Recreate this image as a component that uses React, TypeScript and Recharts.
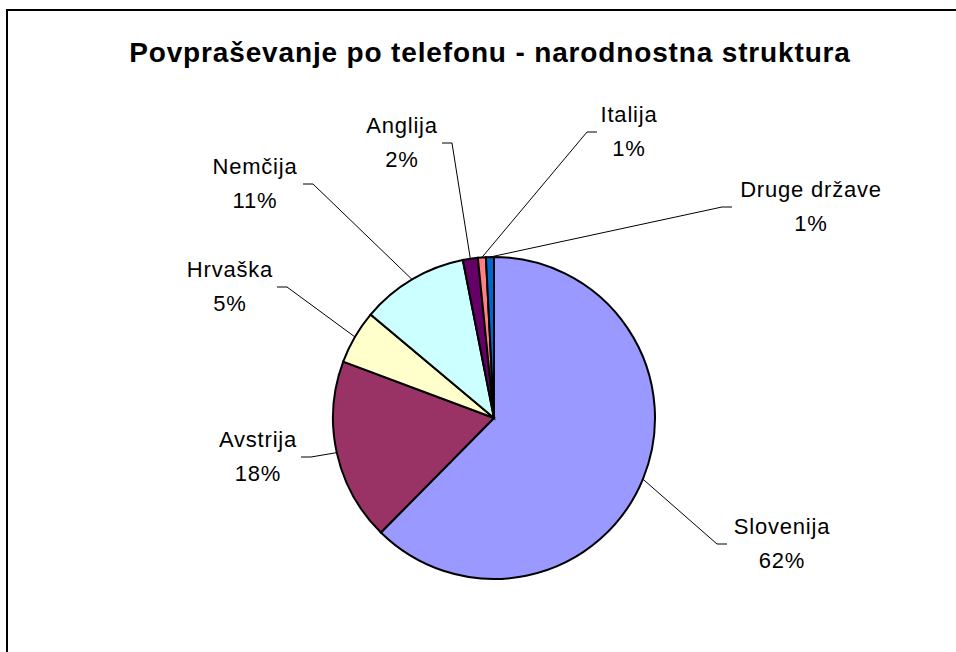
import React from 'react';
import { PieChart, Pie, Cell } from 'recharts';

const countries = ['Slovenija', 'Avstrija', 'Hrvaška', 'Nemčija', 'Anglija', 'Italija', 'Druge države'];
const shares = [62.4, 18.3, 5.4, 10.8, 1.5, 0.8, 0.8];
const colors = ['#9999FF', '#993366', '#FFFFCC', '#CCFFFF', '#660066', '#FF8080', '#0066CC'];

// where each label sits: text centre x, and the end of the leader line tail
const labelLayout = [
  { textX: 782, tailX: 727, tailY: 544 },
  { textX: 258, tailX: 301, tailY: 457 },
  { textX: 230, tailX: 277, tailY: 287 },
  { textX: 255, tailX: 303, tailY: 184 },
  { textX: 402, tailX: 442, tailY: 143 },
  { textX: 629, tailX: 597, tailY: 132 },
  { textX: 811, tailX: 732, tailY: 207 },
];

const chartData = countries.map((name, i) => ({ name, value: shares[i] }));

const RADIAN = Math.PI / 180;
const PIE_CX = 494;
const PIE_CY = 418;

const renderLabel = (props: any) => {
  const { cx, cy, midAngle, outerRadius, percent, index, name } = props;
  const layout = labelLayout[index];
  const ex = cx + outerRadius * Math.cos(-midAngle * RADIAN);
  const ey = cy + outerRadius * Math.sin(-midAngle * RADIAN);
  const elbowX = layout.tailX + (layout.tailX < PIE_CX ? 10 : -10);
  return (
    <g key={`label-${index}`}>
      <polyline
        points={`${ex},${ey} ${elbowX},${layout.tailY} ${layout.tailX},${layout.tailY}`}
        fill="none"
        stroke="#000"
        strokeWidth={1}
      />
      <text
        x={layout.textX}
        y={layout.tailY - 10}
        textAnchor="middle"
        fontFamily="'Liberation Sans', Arial, sans-serif"
        fontSize={22}
        letterSpacing={0.8}
        fill="#000"
      >
        {name}
      </text>
      <text
        x={layout.textX}
        y={layout.tailY + 24}
        textAnchor="middle"
        fontFamily="'Liberation Sans', Arial, sans-serif"
        fontSize={22}
        letterSpacing={0.8}
        fill="#000"
      >
        {`${Math.round(percent * 100)}%`}
      </text>
    </g>
  );
};

export default function App() {
  return (
    <div style={{ position: 'absolute', left: 0, top: 0, width: 956, height: 652, background: '#fff', overflow: 'hidden' }}>
      <div
        style={{
          position: 'absolute',
          left: 6,
          top: 9,
          width: 1000,
          height: 700,
          border: '2px solid #000',
          background: '#fff',
        }}
      />
      <svg width={956} height={652} style={{ position: 'absolute', left: 0, top: 0 }}>
        <text
          x={490}
          y={62}
          textAnchor="middle"
          fontFamily="'Liberation Sans', Arial, sans-serif"
          fontWeight="bold"
          fontSize={28}
          letterSpacing={0.85}
          fill="#000"
        >
          Povpraševanje po telefonu - narodnostna struktura
        </text>
      </svg>
      <div style={{ position: 'absolute', left: 0, top: 0 }}>
        <PieChart width={956} height={652} margin={{ top: 0, right: 0, bottom: 0, left: 0 }}>
          <Pie
            data={chartData}
            dataKey="value"
            nameKey="name"
            cx={PIE_CX}
            cy={PIE_CY}
            outerRadius={161}
            startAngle={90}
            endAngle={-270}
            stroke="#000"
            strokeWidth={2}
            label={renderLabel}
            labelLine={false}
            isAnimationActive={false}
          >
            {chartData.map((entry, i) => (
              <Cell key={entry.name} fill={colors[i]} />
            ))}
          </Pie>
        </PieChart>
      </div>
    </div>
  );
}
